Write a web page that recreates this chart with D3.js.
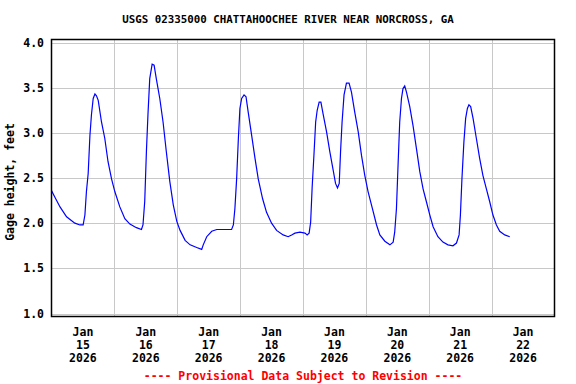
<!DOCTYPE html>
<html>
<head>
<meta charset="utf-8">
<script src="https://cdn.jsdelivr.net/npm/d3@7"></script>
<style>
  body { margin: 0; background: #fff; }
  text { font-family: "DejaVu Sans Mono", monospace; font-weight: bold; }
</style>
</head>
<body>
<div id="container"></div>
<script>
/* CONSTANTS AND GLOBALS */
const width = 576;
const height = 384;
const margin = { top: 39.5, bottom: 67.5, left: 51.5, right: 21.5 }

const title = "USGS 02335000 CHATTAHOOCHEE RIVER NEAR NORCROSS, GA";
const yTitle = "Gage height, feet";
const footer = "---- Provisional Data Subject to Revision ----";

/* DATA */
const times = [
  "2026-01-14 12:00", "2026-01-14 13:15", "2026-01-14 15:15", "2026-01-14 17:45", "2026-01-14 20:55", "2026-01-14 22:50",
  "2026-01-15 00:05", "2026-01-15 00:45", "2026-01-15 01:20", "2026-01-15 02:00", "2026-01-15 02:40", "2026-01-15 03:15",
  "2026-01-15 03:55", "2026-01-15 04:35", "2026-01-15 05:10", "2026-01-15 05:50", "2026-01-15 07:05", "2026-01-15 08:20",
  "2026-01-15 09:35", "2026-01-15 10:55", "2026-01-15 12:10", "2026-01-15 14:05", "2026-01-15 16:00", "2026-01-15 17:55",
  "2026-01-15 20:25", "2026-01-15 22:20", "2026-01-15 22:55", "2026-01-15 23:35",
  "2026-01-16 00:15", "2026-01-16 00:50", "2026-01-16 01:30", "2026-01-16 02:25", "2026-01-16 03:10", "2026-01-16 04:00",
  "2026-01-16 05:20", "2026-01-16 06:35", "2026-01-16 07:50", "2026-01-16 09:10", "2026-01-16 10:30", "2026-01-16 11:50",
  "2026-01-16 13:05", "2026-01-16 15:00", "2026-01-16 16:55", "2026-01-16 19:25", "2026-01-16 21:20", "2026-01-16 21:55",
  "2026-01-16 23:15",
  "2026-01-17 01:10", "2026-01-17 03:05", "2026-01-17 07:30", "2026-01-17 08:45", "2026-01-17 09:25", "2026-01-17 10:00",
  "2026-01-17 10:40", "2026-01-17 11:20", "2026-01-17 11:55", "2026-01-17 12:35", "2026-01-17 13:30", "2026-01-17 14:15",
  "2026-01-17 15:05", "2026-01-17 16:25", "2026-01-17 17:40", "2026-01-17 18:55", "2026-01-17 20:35", "2026-01-17 22:05",
  "2026-01-18 00:00", "2026-01-18 01:55", "2026-01-18 04:25", "2026-01-18 06:20", "2026-01-18 07:40", "2026-01-18 08:55",
  "2026-01-18 10:50", "2026-01-18 12:45", "2026-01-18 13:35", "2026-01-18 14:20", "2026-01-18 14:55", "2026-01-18 15:30",
  "2026-01-18 16:10", "2026-01-18 16:50", "2026-01-18 17:25", "2026-01-18 18:10", "2026-01-18 18:50", "2026-01-18 19:40",
  "2026-01-18 21:00", "2026-01-18 22:15", "2026-01-18 23:30",
  "2026-01-19 00:25", "2026-01-19 01:10", "2026-01-19 01:50", "2026-01-19 02:20", "2026-01-19 02:55", "2026-01-19 03:40",
  "2026-01-19 04:35", "2026-01-19 05:35", "2026-01-19 06:30", "2026-01-19 07:45", "2026-01-19 09:05", "2026-01-19 10:20",
  "2026-01-19 11:35", "2026-01-19 12:50", "2026-01-19 14:30", "2026-01-19 16:05", "2026-01-19 17:20", "2026-01-19 19:15",
  "2026-01-19 21:10", "2026-01-19 22:25", "2026-01-19 23:00", "2026-01-19 23:40",
  "2026-01-20 00:20", "2026-01-20 00:55", "2026-01-20 01:35", "2026-01-20 02:10", "2026-01-20 02:50", "2026-01-20 03:30",
  "2026-01-20 04:45", "2026-01-20 06:00", "2026-01-20 07:20", "2026-01-20 08:35", "2026-01-20 09:50", "2026-01-20 11:05",
  "2026-01-20 12:25", "2026-01-20 13:40", "2026-01-20 15:30", "2026-01-20 17:25", "2026-01-20 19:20", "2026-01-20 21:15",
  "2026-01-20 22:35", "2026-01-20 23:35",
  "2026-01-21 00:05", "2026-01-21 00:40", "2026-01-21 01:25", "2026-01-21 02:05", "2026-01-21 02:45", "2026-01-21 03:20",
  "2026-01-21 04:00", "2026-01-21 04:55", "2026-01-21 06:10", "2026-01-21 07:25", "2026-01-21 08:40", "2026-01-21 10:00",
  "2026-01-21 11:15", "2026-01-21 12:30", "2026-01-21 13:50", "2026-01-21 15:05", "2026-01-21 17:00", "2026-01-21 18:55"
];

const gageHeight = [
  2.36, 2.29, 2.18, 2.07, 2.00, 1.98,
  1.98, 2.09, 2.35, 2.55, 2.97, 3.20,
  3.38, 3.43, 3.41, 3.36, 3.12, 2.94,
  2.68, 2.49, 2.35, 2.18, 2.05, 1.99,
  1.95, 1.93, 1.98, 2.24,
  2.81, 3.21, 3.60, 3.76, 3.75, 3.60,
  3.38, 3.12, 2.79, 2.46, 2.20, 2.02,
  1.92, 1.81, 1.76, 1.73, 1.71, 1.76,
  1.85,
  1.91, 1.93, 1.93, 1.93, 1.98, 2.16,
  2.49, 2.94, 3.27, 3.38, 3.42, 3.40,
  3.23, 2.97, 2.72, 2.49, 2.27, 2.12,
  2.00, 1.92, 1.87, 1.85, 1.87, 1.89,
  1.90, 1.89, 1.87, 1.89, 2.01, 2.40,
  2.75, 3.12, 3.25, 3.34, 3.34, 3.21,
  3.01, 2.79, 2.59,
  2.44, 2.39, 2.44, 2.79, 3.12, 3.42,
  3.55, 3.55, 3.45, 3.23, 3.01, 2.75,
  2.53, 2.35, 2.16, 1.98, 1.87, 1.80,
  1.76, 1.79, 1.90, 2.16,
  2.68, 3.12, 3.38, 3.49, 3.52, 3.45,
  3.29, 3.08, 2.82, 2.57, 2.38, 2.24,
  2.09, 1.96, 1.85, 1.79, 1.76, 1.75,
  1.78, 1.87,
  2.09, 2.49, 2.90, 3.16, 3.27, 3.31,
  3.29, 3.16, 2.94, 2.72, 2.53, 2.38,
  2.24, 2.09, 1.98, 1.91, 1.87, 1.85
];

const yTicks = [1.0, 1.5, 2.0, 2.5, 3.0, 3.5, 4.0];
const dayLabels = ["2026-01-15", "2026-01-16", "2026-01-17", "2026-01-18", "2026-01-19", "2026-01-20", "2026-01-21", "2026-01-22"];
const gridTimes = ["2026-01-15 12:00", "2026-01-16 12:00", "2026-01-17 12:00", "2026-01-18 12:00", "2026-01-19 12:00", "2026-01-20 12:00", "2026-01-21 12:00"];

const parseTime = d3.timeParse("%Y-%m-%d %H:%M");
const parseDay = d3.timeParse("%Y-%m-%d");
const data = times.map((t, i) => ({ time: parseTime(t), value: gageHeight[i] }));

/* SCALES */
const xScale = d3.scaleTime()
  .domain([parseTime("2026-01-14 12:00"), parseTime("2026-01-22 12:00")])
  .range([margin.left, width - margin.right])

const yScale = d3.scaleLinear()
  .domain([1.0, 4.0])
  .range([313.5, 42.5])

const svg = d3.select('#container')
  .append('svg')
  .attr('width', width)
  .attr('height', height)

/* GRID */
svg.append('g')
  .selectAll('line')
  .data(yTicks)
  .join('line')
  .attr('x1', margin.left)
  .attr('x2', width - margin.right)
  .attr('y1', d => Math.round(yScale(d)) + 0.5)
  .attr('y2', d => Math.round(yScale(d)) + 0.5)
  .attr('stroke', '#c8c8c8')
  .attr('stroke-width', 1)

svg.append('g')
  .selectAll('line')
  .data(gridTimes.map(parseTime))
  .join('line')
  .attr('x1', d => Math.round(xScale(d)) + 0.5)
  .attr('x2', d => Math.round(xScale(d)) + 0.5)
  .attr('y1', margin.top)
  .attr('y2', height - margin.bottom)
  .attr('stroke', '#c8c8c8')
  .attr('stroke-width', 1)

/* LINE */
const line = d3.line()
  .x(d => xScale(d.time))
  .y(d => yScale(d.value))

svg.append('path')
  .datum(data)
  .attr('d', line)
  .attr('fill', 'none')
  .attr('stroke', '#0000ff')
  .attr('stroke-width', 1.2)

/* FRAME */
svg.append('rect')
  .attr('x', margin.left)
  .attr('y', margin.top)
  .attr('width', width - margin.left - margin.right)
  .attr('height', height - margin.top - margin.bottom)
  .attr('fill', 'none')
  .attr('stroke', '#000')
  .attr('stroke-width', 1.5)

/* AXES LABELS */
svg.append('g')
  .selectAll('text')
  .data(yTicks)
  .join('text')
  .attr('x', 44)
  .attr('y', d => yScale(d) + 4)
  .attr('text-anchor', 'end')
  .attr('font-size', 11.5)
  .text(d => d3.format('.1f')(d))

const fmtMon = d3.timeFormat('%b');
const fmtDay = d3.timeFormat('%d');
const fmtYear = d3.timeFormat('%Y');

const xLab = svg.append('g')
  .selectAll('text')
  .data(dayLabels.map(parseDay))
  .join('text')
  .attr('text-anchor', 'middle')
  .attr('font-size', 11.5)
  .attr('transform', d => `translate(${xScale(d)},0)`)

xLab.append('tspan').attr('x', 0).attr('y', 335.5).text(fmtMon)
xLab.append('tspan').attr('x', 0).attr('y', 348.5).text(fmtDay)
xLab.append('tspan').attr('x', 0).attr('y', 361.5).text(fmtYear)

svg.append('text')
  .attr('transform', 'translate(14,182) rotate(-90)')
  .attr('text-anchor', 'middle')
  .attr('font-size', 11.5)
  .text(yTitle)

svg.append('text')
  .attr('x', width / 2)
  .attr('y', 23)
  .attr('text-anchor', 'middle')
  .attr('font-size', 10.8)
  .text(title)

svg.append('text')
  .attr('x', (margin.left + width - margin.right) / 2)
  .attr('y', 380)
  .attr('text-anchor', 'middle')
  .attr('font-size', 11.5)
  .attr('fill', '#ff0000')
  .text(footer)
</script>
</body>
</html>
